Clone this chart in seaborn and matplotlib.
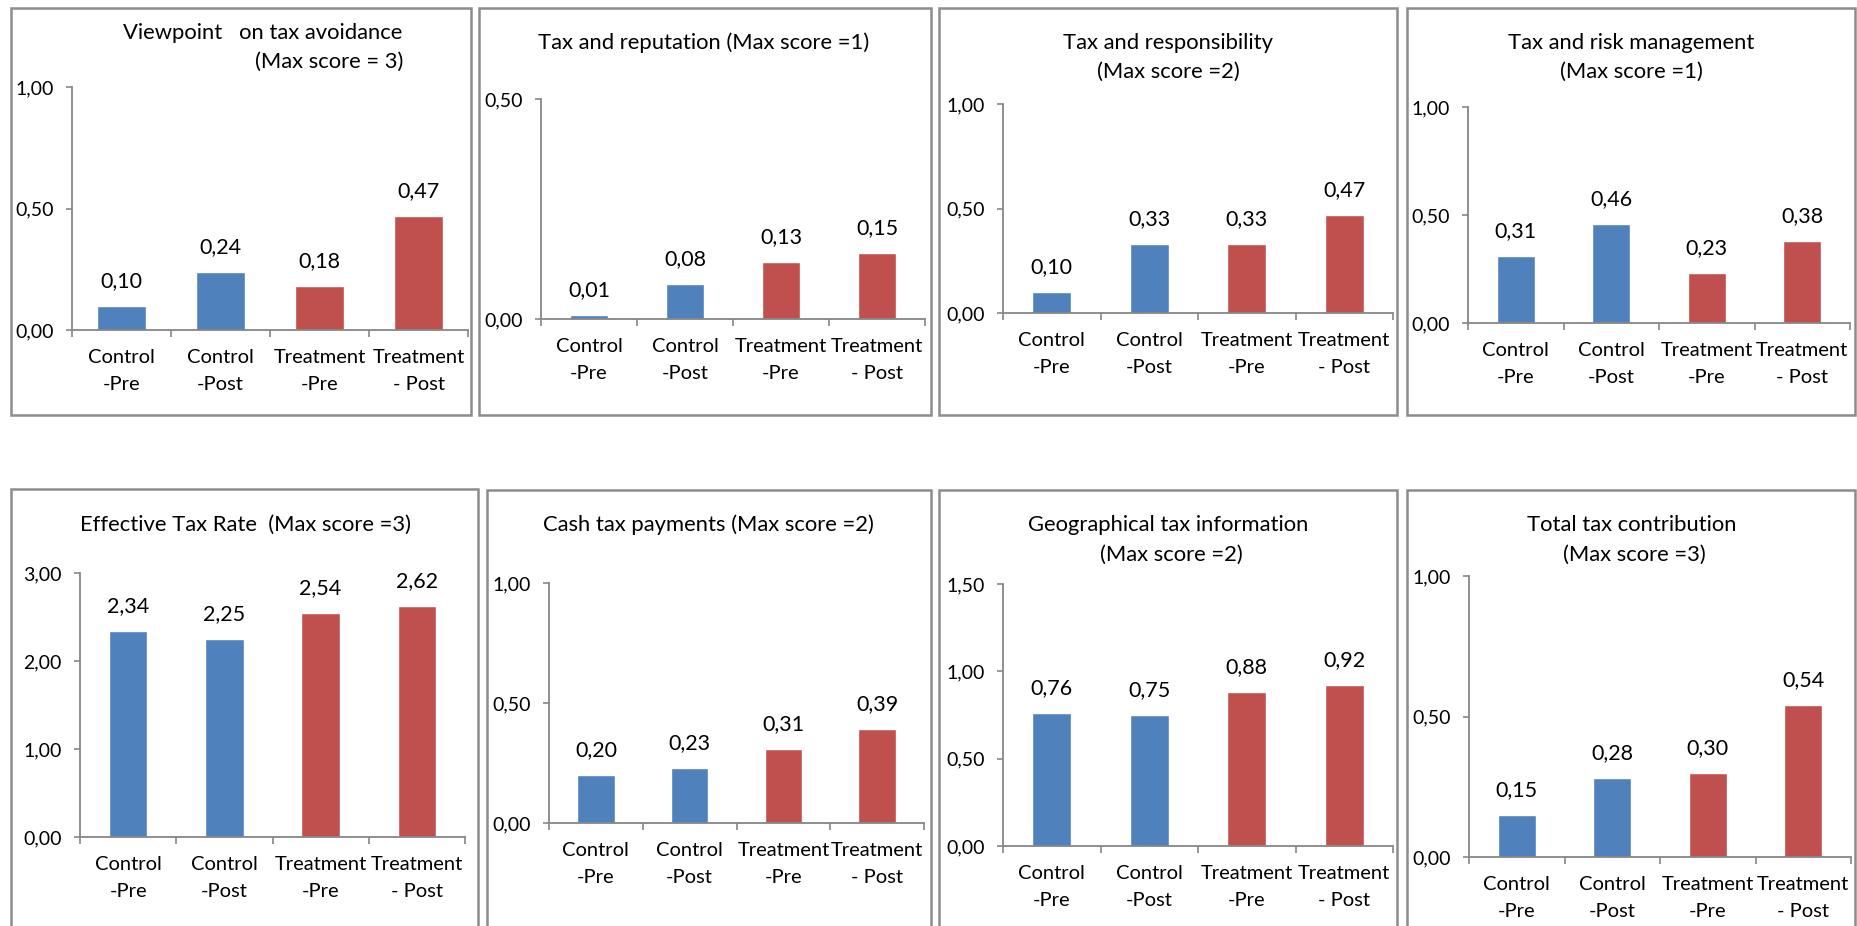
import matplotlib
matplotlib.use("Agg")
import matplotlib.pyplot as plt
from matplotlib.patches import Rectangle
from matplotlib.ticker import FixedLocator, FuncFormatter
import pandas as pd
import seaborn as sns

# ---- data -------------------------------------------------------------
groups = ["Control\n-Pre", "Control\n-Post", "Treatment\n-Pre", "Treatment\n- Post"]
arms = ["Control", "Control", "Treatment", "Treatment"]

viewpoint_avoidance = [0.10, 0.24, 0.18, 0.47]
tax_reputation = [0.01, 0.08, 0.13, 0.15]
tax_responsibility = [0.10, 0.33, 0.33, 0.47]
tax_risk_management = [0.31, 0.46, 0.23, 0.38]
effective_tax_rate = [2.34, 2.25, 2.54, 2.62]
cash_tax_payments = [0.20, 0.23, 0.31, 0.39]
geographical_info = [0.76, 0.75, 0.88, 0.92]
total_tax_contribution = [0.15, 0.28, 0.30, 0.54]

titles = [
    ["Viewpoint   on tax avoidance", "(Max score = 3)"],
    ["Tax and reputation (Max score =1)"],
    ["Tax and responsibility", "(Max score =2)"],
    ["Tax and risk management", "(Max score =1)"],
    ["Effective Tax Rate  (Max score =3)"],
    ["Cash tax payments (Max score =2)"],
    ["Geographical tax information", "(Max score =2)"],
    ["Total tax contribution", "(Max score =3)"],
]
y_max = [1.0, 0.5, 1.0, 1.0, 3.0, 1.0, 1.5, 1.0]
y_step = [0.5, 0.5, 0.5, 0.5, 1.0, 0.5, 0.5, 0.5]
series = [viewpoint_avoidance, tax_reputation, tax_responsibility, tax_risk_management,
          effective_tax_rate, cash_tax_payments, geographical_info, total_tax_contribution]

# ---- layout (pixels on a 1857 x 926 canvas) ---------------------------
W, H = 1857, 926
frames = [(11, 8, 471, 415), (479, 8, 931, 415), (939, 8, 1397, 415), (1407, 8, 1855, 415),
          (11, 489, 478, 940), (487, 490, 931, 940), (939, 490, 1397, 940), (1407, 490, 1855, 940)]
plot_boxes = [(72, 87, 468, 330), (541, 99, 925, 319), (1003, 104, 1393, 313), (1468, 107, 1850, 323),
              (80, 573, 465, 837), (549, 583, 924, 823), (1003, 584, 1393, 846), (1469, 576, 1851, 857)]
title_pos = [[(263, 33, "center"), (403, 62, "right")],
             [(704, 43, "center")],
             [(1168, 43, "center"), (1168, 72, "center")],
             [(1631, 43, "center"), (1631, 72, "center")],
             [(245, 525, "center")],
             [(708, 525, "center")],
             [(1168, 525, "center"), (1171, 555, "center")],
             [(1632, 525, "center"), (1634, 555, "center")]]
bar_width = [0.5, 0.4, 0.4, 0.4, 0.4, 0.4, 0.4, 0.4]

BLUE, RED = "#4F81BD", "#C0504D"
AXIS_GREY = "#868686"
FRAME_GREY = "#8C8C8C"

sns.set_theme(style="white")
plt.rcParams["font.family"] = ["Lato", "DejaVu Sans"]

fig = plt.figure(figsize=(W / 100, H / 100), dpi=100)
fig.patch.set_facecolor("white")


def fx(x):
    return x / W


def fy(y):
    return 1 - y / H


def comma(v, _pos=None):
    return f"{v:.2f}".replace(".", ",")


for i in range(8):
    # chart frame
    l, t, r, b = frames[i]
    fig.patches.append(Rectangle((fx(l), fy(b)), fx(r) - fx(l), fy(t) - fy(b),
                                 transform=fig.transFigure, fill=False,
                                 edgecolor=FRAME_GREY, linewidth=1.8, zorder=0))
    # titles
    for (tx, ty, ha), line in zip(title_pos[i], titles[i]):
        fig.text(fx(tx), fy(ty), line, ha=ha, va="center", fontsize=15.8, color="black")

    pl, pt, pr, pb = plot_boxes[i]
    ax = fig.add_axes([fx(pl), fy(pb), fx(pr) - fx(pl), fy(pt) - fy(pb)])
    df = pd.DataFrame({"group": groups, "score": series[i], "arm": arms})
    sns.barplot(data=df, x="group", y="score", hue="arm", order=groups,
                palette={"Control": BLUE, "Treatment": RED}, dodge=False,
                width=bar_width[i], saturation=1, legend=False, ax=ax)

    ax.set_xlim(-0.5, 3.5)
    ax.set_ylim(0, y_max[i])
    n = int(round(y_max[i] / y_step[i]))
    ax.yaxis.set_major_locator(FixedLocator([k * y_step[i] for k in range(n + 1)]))
    ax.yaxis.set_major_formatter(FuncFormatter(comma))
    ax.set_xlabel("")
    ax.set_ylabel("")
    ax.set_facecolor("none")

    for side in ("top", "right"):
        ax.spines[side].set_visible(False)
    for side in ("left", "bottom"):
        ax.spines[side].set_color(AXIS_GREY)
        ax.spines[side].set_linewidth(1.3)

    ax.tick_params(axis="y", which="major", left=True, length=4, width=1.2, color=AXIS_GREY,
                   labelsize=14, labelcolor="black", pad=9)
    ax.tick_params(axis="x", which="major", bottom=False, length=0, labelsize=14.5,
                   labelcolor="black", pad=14)
    ax.set_xticks(range(4))
    ax.set_xticklabels(groups, linespacing=1.65)
    ax.set_xticks([-0.5, 0.5, 1.5, 2.5, 3.5], minor=True)
    ax.tick_params(axis="x", which="minor", bottom=True, length=5, width=1.2, color=AXIS_GREY)

    for k, v in enumerate(series[i]):
        ax.annotate(comma(v), xy=(k, v), xytext=(0, 18), textcoords="offset points",
                    ha="center", va="center", fontsize=15.5, color="black",
                    annotation_clip=False)

fig.savefig("out.png", dpi=100, facecolor="white")
